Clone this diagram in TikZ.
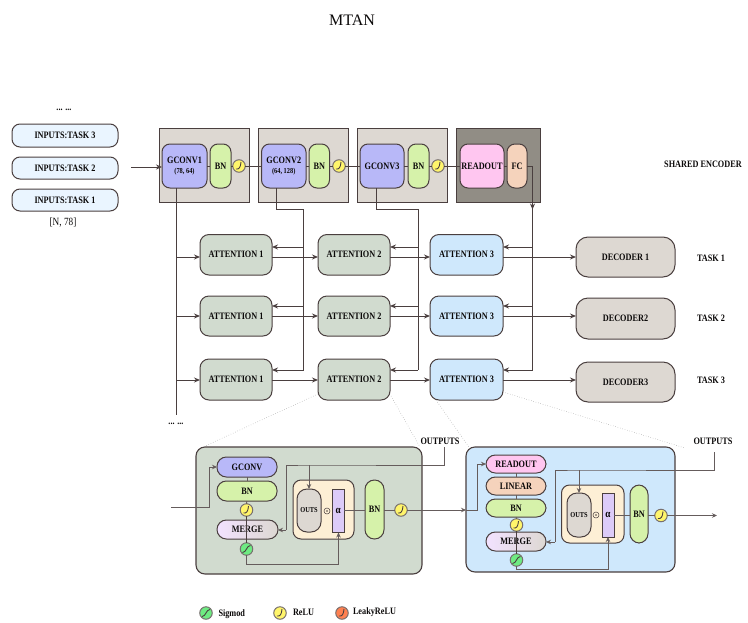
\documentclass[tikz,border=0pt]{standalone}
\usepackage{fontspec}
\setmainfont[FakeStretch=0.84]{Liberation Serif}
\newfontfamily\titlefont{Liberation Serif}
\usetikzlibrary{arrows.meta}
\definecolor{ln}{HTML}{4A3F3F}
\definecolor{cInput}{HTML}{EAF5FF}
\definecolor{cEnc}{HTML}{DDD8D2}
\definecolor{cDark}{HTML}{918D85}
\definecolor{cGconv}{HTML}{B8B8F8}
\definecolor{cBN}{HTML}{D6F2AA}
\definecolor{cRelu}{HTML}{FFF56B}
\definecolor{cRead}{HTML}{FFC6F0}
\definecolor{cFC}{HTML}{F5D3BC}
\definecolor{cGreen}{HTML}{D1DBCF}
\definecolor{cBlue}{HTML}{CFE8FC}
\definecolor{cOrange}{HTML}{FDEFD5}
\definecolor{cAlpha}{HTML}{DCCBF8}
\definecolor{cSig}{HTML}{6EEB82}
\definecolor{cLeaky}{HTML}{FF8050}
\definecolor{cMergeL}{HTML}{F2E2FF}
\tikzset{
  every node/.style={outer sep=0pt,inner sep=0pt,text=black!85!ln},
  txt/.style={font=\bfseries\fontsize{9.8}{11}\selectfont},
  small/.style={font=\bfseries\fontsize{7.6}{9}\selectfont},
  plain/.style={font=\fontsize{11}{12}\selectfont},
  base/.style={draw=ln,line width=1pt,align=center,txt},
  inputbox/.style={base,fill=cInput,rounded corners=8pt},
  encbox/.style={draw=ln,line width=.9pt,fill=cEnc},
  darkbox/.style={draw=ln,line width=.9pt,fill=cDark},
  block/.style={base,rounded corners=8pt},
  pill/.style={base,rounded corners=9.4pt},
  attn/.style={base,rounded corners=9pt},
  decoder/.style={base,fill=cEnc,rounded corners=12pt},
  panel/.style={draw=ln,line width=1.1pt,rounded corners=9pt},
  inner/.style={draw=ln,line width=1pt,fill=cOrange,rounded corners=8pt},
  actnode/.style={circle,draw=ln!75,line width=1pt,minimum size=12.5pt},
  conn/.style={draw=ln,line width=.95pt},
  arrowc/.style={conn,-{Stealth[length=6pt,width=5pt]}},
  thin conn/.style={draw=ln!85,line width=.9pt},
  thin arrow/.style={thin conn,-{Stealth[length=5pt,width=4.5pt]}},
  dots/.style={draw=black!45,line width=.45pt,dotted},
}
\newcommand{\bx}[7]{%
  \pgfmathsetmacro\bxw{#5-#3}\pgfmathsetmacro\bxh{#6-#4}%
  \node[#2,minimum width=\bxw pt,minimum height=\bxh pt] (#1) at ({(#3+#5)/2},{(#4+#6)/2}) {#7};}
\newcommand{\relu}[4]{%
  \node[actnode,fill=#4] (#1) at (#2,#3) {};
  \draw[ln,line width=.9pt] ([shift={(-3,3)}]#1.center) .. controls ([shift={(0,3.4)}]#1.center) and ([shift={(1.4,2)}]#1.center) .. ([shift={(2,-4)}]#1.center);}
\newcommand{\sigm}[4]{%
  \node[actnode,fill=#4] (#1) at (#2,#3) {};
  \draw[ln,line width=.9pt] ([shift={(-4,3.5)}]#1.center) .. controls ([shift={(0,3.5)}]#1.center) and ([shift={(0,-3.5)}]#1.center) .. ([shift={(4,-3.5)}]#1.center);}
\begin{document}
\begin{tikzpicture}[x=1pt,y=-1pt]
\useasboundingbox (0,0) rectangle (748,622);
\node[font=\titlefont\fontsize{16}{18}\selectfont] (title) at (352,20) {MTAN};

% inputs
\node[txt] (topdots) at (64,110) {... ...};
\bx{in3}{inputbox}{12}{124}{118}{147}{INPUTS:TASK 3}
\bx{in2}{inputbox}{12}{157}{118}{179}{INPUTS:TASK 2}
\bx{in1}{inputbox}{12}{189}{118}{211}{INPUTS:TASK 1}
\node[plain] (shape) at (63,223) {[N, 78]};

% encoder
\bx{enc1}{encbox}{159}{128}{249}{202}{}
\bx{enc2}{encbox}{258.5}{128}{348}{202}{}
\bx{enc3}{encbox}{357}{128}{447}{202}{}
\bx{enc4}{darkbox}{456}{128}{540}{202}{}
\bx{g1}{block,fill=cGconv}{162}{144}{207}{188}{GCONV1\\[-1pt]{\fontsize{7.6}{9}\selectfont (78, 64)}}
\bx{b1}{block,fill=cBN}{210}{144}{231}{188}{BN}
\relu{r1}{239}{166}{cRelu}
\bx{g2}{block,fill=cGconv}{261.5}{144}{306}{188}{GCONV2\\[-1pt]{\fontsize{7.6}{9}\selectfont (64, 128)}}
\bx{b2}{block,fill=cBN}{309}{144}{329.5}{188}{BN}
\relu{r2}{339}{166}{cRelu}
\bx{g3}{block,fill=cGconv}{360}{144}{404}{188}{GCONV3}
\bx{b3}{block,fill=cBN}{408}{144}{429}{188}{BN}
\relu{r3}{438}{166}{cRelu}
\bx{ro}{block,fill=cRead}{460}{144}{504}{188}{READOUT}
\bx{fc}{block,fill=cFC}{507}{144}{527}{188}{FC}
\node[txt] (shared) at (703,164) {SHARED ENCODER};

% attention grid
\foreach \n/\ya/\yb in {1/234.5/275,2/296/336,3/359/400}{
  \bx{a1\n}{attn,fill=cGreen}{200}{\ya}{272}{\yb}{ATTENTION 1}
  \bx{a2\n}{attn,fill=cGreen}{318}{\ya}{390}{\yb}{ATTENTION 2}
  \bx{a3\n}{attn,fill=cBlue}{430}{\ya}{503}{\yb}{ATTENTION 3}
}
\bx{d1}{decoder}{576}{237}{675}{277}{DECODER 1}
\bx{d2}{decoder}{576}{298}{675}{339}{DECODER2}
\bx{d3}{decoder}{576}{362}{675}{402}{DECODER3}
\node[txt] (t1) at (711,258) {TASK 1};
\node[txt] (t2) at (711,318) {TASK 2};
\node[txt] (t3) at (711,380) {TASK 3};
\node[txt] (botdots) at (176,423.5) {... ...};

% named routing coordinates
\coordinate (fw1) at (0,257); \coordinate (fw2) at (0,316); \coordinate (fw3) at (0,380);
\coordinate (bk1) at (0,247); \coordinate (bk2) at (0,306); \coordinate (bk3) at (0,370);
\coordinate (elbow) at (0,209.5);
\coordinate (tr1) at (176,0); \coordinate (tr2) at (303.5,0); \coordinate (tr3) at (418,0); \coordinate (tr4) at (532.5,0);
\coordinate (tr1end) at (176,415);
\coordinate (instart) at (131,167);

% encoder connectors
\draw[arrowc] (instart) -- (instart -| g1.west);
\draw[conn] (b1.east |- r1) -- (r1.west);
\draw[conn] (g1.east |- r1) -- (b1.west |- r1);
\draw[conn] (r1.east) -- (g2.west |- r1);
\draw[conn] (g2.east |- r2) -- (b2.west |- r2);
\draw[conn] (b2.east |- r2) -- (r2.west);
\draw[conn] (r2.east) -- (g3.west |- r2);
\draw[conn] (g3.east |- r3) -- (b3.west |- r3);
\draw[conn] (b3.east |- r3) -- (r3.west);
\draw[conn] (r3.east) -- (ro.west |- r3);
\draw[conn] (ro.east |- r3) -- (fc.west |- r3);
% trunks
\draw[conn] (tr1 |- g1.south) -- (tr1end);
\draw[conn] (276,188) coordinate (g2out) -- (g2out |- elbow) -- (tr2 |- elbow) -- (tr2 |- bk3);
\draw[conn] (376.5,188) coordinate (g3out) -- (g3out |- elbow) -- (tr3 |- elbow) -- (tr3 |- bk3);
\draw[conn] (fc.east |- r3) -- (tr4 |- r3) -- (tr4 |- bk3);
\draw[arrowc] (tr4 |- enc4.south) -- (tr4 |- elbow);
% grid connectors
\foreach \n in {1,2,3}{
  \draw[arrowc] (tr1 |- fw\n) -- (a1\n.west |- fw\n);
  \draw[arrowc] (a1\n.east |- fw\n) -- (a2\n.west |- fw\n);
  \draw[arrowc] (a2\n.east |- fw\n) -- (a3\n.west |- fw\n);
  \draw[arrowc] (a3\n.east |- fw\n) -- (d\n.west |- fw\n);
  \draw[arrowc] (tr2 |- bk\n) -- (a1\n.east |- bk\n);
  \draw[arrowc] (tr3 |- bk\n) -- (a2\n.east |- bk\n);
  \draw[arrowc] (tr4 |- bk\n) -- (a3\n.east |- bk\n);
}

% left detail
\bx{pl}{panel,fill=cGreen}{196}{447}{422}{574}{}
\bx{pli}{inner}{293}{480}{354}{539}{}
\bx{lg}{pill,fill=cGconv}{217}{457}{277}{477}{GCONV}
\bx{lb}{pill,fill=cBN}{217}{481}{277}{501}{BN}
\relu{lr}{246.5}{510}{cRelu}
\bx{lm}{pill,left color=cMergeL,right color=cEnc}{217}{520}{278}{539}{MERGE}
\sigm{ls}{246.5}{549}{cSig}
\bx{lo}{base,small,fill=cEnc,rounded corners=10pt}{297}{489}{321}{532}{OUTS}
\node[circle,draw=ln,line width=.5pt,minimum size=6pt] (lod) at (327,511) {};
\fill[ln] (lod.center) circle (.9pt);
\bx{la}{base,fill=cAlpha,font=\bfseries\fontsize{11}{12}\selectfont}{332.5}{489}{344}{532}{α}
\bx{lbn}{pill,fill=cBN}{365}{480}{384}{539}{BN}
\relu{lr2}{401}{510}{cRelu}
\node[txt] (lout) at (440,441) {OUTPUTS};

% right detail
\bx{pr}{panel,fill=cBlue}{466}{447}{675}{572}{}
\bx{pri}{inner}{561.5}{485}{624}{543}{}
\bx{rr}{pill,fill=cRead}{486}{455}{546}{473}{READOUT}
\bx{rl}{pill,fill=cFC}{486}{477}{546}{495}{LINEAR}
\bx{rb}{pill,fill=cBN}{486}{499}{546}{517}{BN}
\relu{rr1}{516.5}{525}{cRelu}
\bx{rm}{pill,left color=cMergeL,right color=cEnc}{486}{532}{546}{551}{MERGE}
\sigm{rs}{516.5}{560}{cSig}
\bx{ro2}{base,small,fill=cEnc,rounded corners=10pt}{567}{493}{591}{537}{OUTS}
\node[circle,draw=ln,line width=.5pt,minimum size=6pt] (rod) at (596,515) {};
\fill[ln] (rod.center) circle (.9pt);
\bx{ra}{base,fill=cAlpha,font=\bfseries\fontsize{11}{12}\selectfont}{602}{493}{614}{537}{α}
\bx{rbn}{pill,fill=cBN}{630}{485}{648}{543}{BN}
\relu{rr2}{661}{515.5}{cRelu}
\node[txt] (rout) at (713,441) {OUTPUTS};

% dotted zoom guides
\draw[dots] (a23.south west) ++(0,-6) -- (203,447);
\draw[dots] (a23.south east) ++(1,-4) -- (420,447);
\draw[dots] (a33.south west) ++(6,0) -- (469,447);
\draw[dots] (a33.south east) ++(0,-8) -- (685,448);

% left detail connectors
\coordinate (lstart) at (171,507);
\coordinate (lbus) at (209,0);
\draw[thin arrow] (lstart) -- (lbus |- lstart) -- (lbus |- lg) -- (lg.west);
\draw[thin conn] (lg) -- (lb);
\draw[thin conn] (lb) -- (lr);
\draw[conn] (lr.south) -- (ls.north);
\draw[thin arrow] (ls.south) -- (246.5,564.5) coordinate (lc) -- (338.5,564.5) -- (338.5,532.5);
\coordinate (louta) at (444,447);
\coordinate (loutb) at (444,465);
\draw[thin conn] (louta) -- (loutb) -- (309,465) coordinate (lj) -- (286,465) -- (286,530) coordinate (lk);
\draw[thin arrow] (lk) -- (lm.east |- lk);
\draw[thin arrow] (lj) -- (lj |- lo.north);
\draw[thin conn] (la.east |- lr2) -- (lbn.west |- lr2);
\draw[thin conn] (lbn.east |- lr2) -- (lr2.west);
\draw[thin arrow] (lr2.east) -- (pr.west |- lr2);
\draw[thin arrow] (pr.west |- lr2) -- (477,510) -- (477,464) -- (rr.west);

% right detail connectors
\draw[thin conn] (rr) -- (rl);
\draw[thin conn] (rl) -- (rb);
\draw[thin conn] (rb) -- (rr1);
\draw[conn] (rr1.south) -- (rs.north);
\draw[thin arrow] (rs.south) -- (516.5,569) -- (608,569) -- (608,537);
\coordinate (routa) at (714,452);
\draw[thin conn] (routa) -- (714,470) -- (579,470) coordinate (rj) -- (555,470) -- (555,542) coordinate (rk);
\draw[thin arrow] (rk) -- (rm.east |- rk);
\draw[thin arrow] (rj) -- (rj |- ro2.north);
\draw[thin conn] (ra.east |- rr2) -- (rbn.west |- rr2);
\draw[thin conn] (rbn.east |- rr2) -- (rr2.west);
\draw[thin arrow] (rr2.east) -- (717,515.5) coordinate (rend);

% legend
\sigm{lg1}{206}{613}{cSig}
\node[txt,anchor=west] (lg1t) at (218.5,614) {Sigmod};
\relu{lg2}{280}{613}{cRelu}
\node[txt,anchor=west] (lg2t) at (293,612) {ReLU};
\relu{lg3}{342}{613}{cLeaky}
\node[txt,anchor=west] (lg3t) at (353,612.5) {LeakyReLU};
\end{tikzpicture}
\end{document}
